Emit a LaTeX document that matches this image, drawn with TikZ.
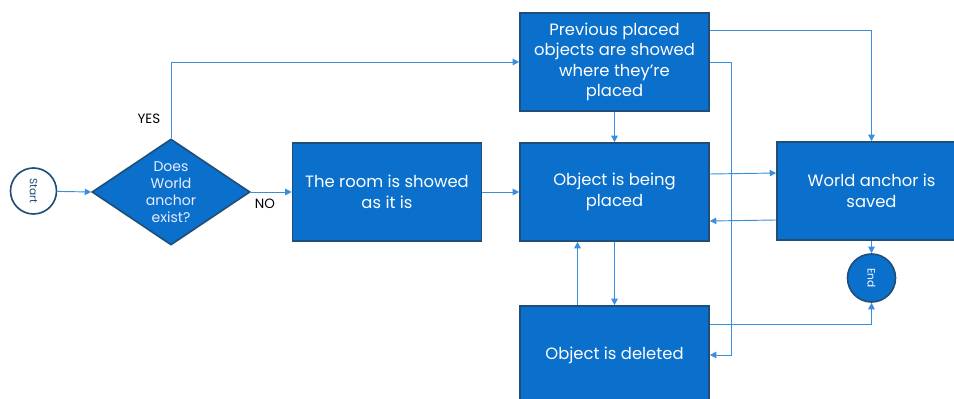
\documentclass[tikz,border=0pt]{standalone}
\usepackage{fontspec}
\setmainfont{Poppins}
\usetikzlibrary{shapes.geometric, arrows.meta, positioning}

\definecolor{boxblue}{HTML}{0A70CC}
\definecolor{edgeblue}{HTML}{1F4E79}
\definecolor{lineblue}{HTML}{3A8FDD}

\begin{document}
\begin{tikzpicture}[
  % one unit is one pixel of the page
  x=0.03cm, y=-0.03cm,
  block/.style={draw=edgeblue, line width=1.4pt, fill=boxblue, text=white,
    minimum width=5.67cm, minimum height=2.94cm, align=center,
    font=\fontsize{14}{17.5}\selectfont},
  decision/.style={diamond, draw=edgeblue, line width=1.4pt, fill=boxblue,
    text=blue!8, aspect=1.5, inner sep=0pt, minimum width=4.74cm,
    minimum height=3.18cm, align=center, font=\fontsize{12}{14.5}\selectfont},
  terminal/.style={circle, draw=edgeblue, line width=1.4pt, inner sep=0pt,
    font=\fontsize{9}{10}\selectfont},
  flow/.style={draw=lineblue, line width=0.8pt, -{Triangle[length=5.5pt,width=5.5pt]}},
  answer/.style={font=\fontsize{11.5}{13}\selectfont}
]
  \clip (0,0) rectangle (954,399);

  % Start and decision
  \node[terminal, fill=white, text=edgeblue, minimum size=1.38cm, rotate=-90] (start) at (33.5,191) {Start};
  \node[decision] (cond) at (171,192) {Does\\World\\anchor\\exist?};

  % Boxes
  \node[block] (room) at (387,192) {The room is showed\\as it is};
  \node[block] (prev) at (614.5,62) {Previous placed\\objects are showed\\where they're\\placed};
  \node[block] (place) at (614.5,192) {Object is being\\placed};
  \node[block] (saved) at (871.5,191) {World anchor is\\saved};
  \node[block] (deleted) at (614.5,355) {Object is deleted};
  \node[terminal, fill=boxblue, text=white, minimum size=1.44cm, rotate=-90] (end) at (871.5,278) {End};

  % Connectors
  \draw[flow] (start) -- (cond.west);
  \draw[flow] (cond.north) |- (prev.west);
  \node[answer, anchor=south east] at ([xshift=-0.2cm, yshift=0.3cm]cond.north) {YES};
  \draw[flow] (cond.east) -- (room.west);
  \node[answer, anchor=north west] at ([yshift=-0.1cm]cond.east) {NO};
  \draw[flow] (room) -- (place);
  \draw[flow] (prev) -- (place);
  \draw[flow] ([yshift=0.96cm]prev.east) -| (saved.north);
  \draw[flow] (prev.east) -- ++(22,0) |- (deleted.east);
  \draw[flow] ([yshift=0.54cm]place.east) -- ([yshift=0.54cm]saved.west);
  \draw[flow] ([yshift=-0.87cm]saved.west) -- ([yshift=-0.87cm]place.east);
  \draw[flow] (place.south) -- (deleted.north);
  \draw[flow] ([xshift=-1.11cm]deleted.north) -- ([xshift=-1.11cm]place.south);
  \draw[flow] ([yshift=0.93cm]deleted.east) -| (end);
  \draw[flow] (saved) -- (end);
\end{tikzpicture}
\end{document}
